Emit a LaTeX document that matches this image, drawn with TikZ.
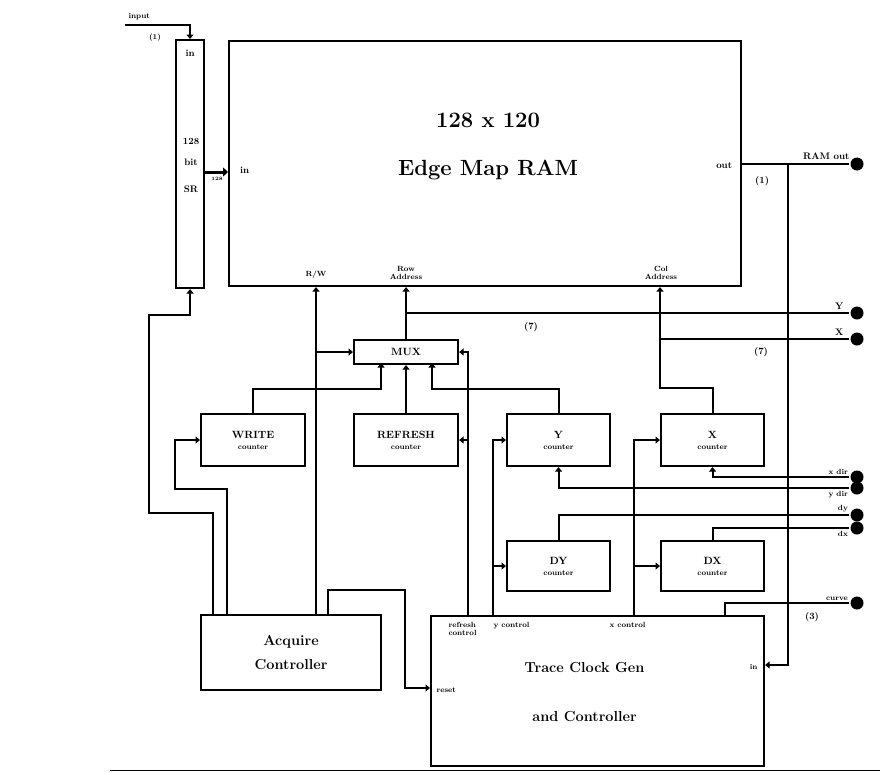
\documentclass[tikz,border=0pt]{standalone}
\usetikzlibrary{arrows.meta, positioning, calc}

\begin{document}
\begin{tikzpicture}[x=1pt, y=-1pt, line width=2.1pt,
    blk/.style={draw, rectangle, anchor=north west, inner sep=0pt, align=center,
      font=\bfseries\fontsize{10.5}{11}\selectfont},
    sig/.style={-{Triangle[width=7pt,length=4.5pt]}},
    lbl/.style={font=\bfseries\fontsize{9.5}{10}\selectfont, inner sep=1pt},
    tiny/.style={font=\bfseries\fontsize{7.5}{8}\selectfont, inner sep=0.5pt, align=center},
    term/.style={circle, fill, inner sep=0pt, minimum size=13pt}]
  \useasboundingbox (0,0) rectangle (880,782);
  \newcommand{\cnt}{\fontsize{7.5}{8.5}\selectfont counter}

  % boxes
  \node[blk, minimum width=28, minimum height=248] (sr) at (175,39) {};
  \node[blk, minimum width=512, minimum height=245] (ram) at (228,40) {};
  \node[blk, minimum width=104, minimum height=24] (mux) at (353,339) {MUX};
  \node[blk, minimum width=104, minimum height=52] (write) at (200,413) {WRITE\\\cnt};
  \node[blk, minimum width=104, minimum height=52] (refresh) at (353,413) {REFRESH\\\cnt};
  \node[blk, minimum width=103, minimum height=52] (ycnt) at (506,413) {Y\\\cnt};
  \node[blk, minimum width=103, minimum height=52] (xcnt) at (660,413) {X\\\cnt};
  \node[blk, minimum width=103, minimum height=50] (dy) at (506,540) {DY\\\cnt};
  \node[blk, minimum width=103, minimum height=50] (dx) at (660,540) {DX\\\cnt};
  \node[blk, minimum width=180, minimum height=75, font=\bfseries\fontsize{14.5}{24}\selectfont]
    (acq) at (200,614) {Acquire\\Controller};
  \node[blk, minimum width=333, minimum height=150] (trace) at (430,615) {};

  % texts in the boxes
  \node[lbl] (srin) at ($(sr.north)+(0,14)$) {in};
  \node[lbl] (srbits) at ($(sr.north)+(1,102)$) {128};
  \node[lbl] (srbit) at ($(sr.north)+(1,123)$) {bit};
  \node[lbl] (srname) at ($(sr.north)+(1,150)$) {SR};
  \node[font=\bfseries\fontsize{22}{26}\selectfont] (ramsize) at ($(ram.north)+(3,80)$) {128 x 120};
  \node[font=\bfseries\fontsize{22}{26}\selectfont] (ramname) at ($(ram.north)+(3,130)$) {Edge Map RAM};
  \node[lbl, anchor=west] (ramin) at ($(ram.north west)+(10,130)$) {in};
  \node[lbl, anchor=east] (ramout) at ($(ram.north east)+(-8,126)$) {out};
  \node[tiny] (lrw) at ($(ram.south west)+(88,-12)$) {R/W};
  \node[tiny, anchor=south] (lrow) at ($(ram.south -| mux.north)+(0,-6)$) {Row\\Address};
  \node[tiny, anchor=south] (lcol) at ($(ram.south west)+(433,-6)$) {Col\\Address};
  \node[font=\bfseries\fontsize{14.5}{16}\selectfont] (tracea) at ($(trace.north)+(-13,53)$) {Trace Clock Gen};
  \node[font=\bfseries\fontsize{14.5}{16}\selectfont] (traceb) at ($(trace.north)+(-13,102)$) {and Controller};
  \node[tiny, anchor=north west, align=left] (lrfc) at ($(trace.north west)+(17,6)$) {refresh\\control};
  \node[tiny, anchor=north west] (lyc) at ($(trace.north west)+(62,6)$) {y control};
  \node[tiny, anchor=north west] (lxc) at ($(trace.north west)+(178,6)$) {x control};
  \node[tiny, anchor=west] (lreset) at ($(trace.north west)+(5,75)$) {reset};
  \node[tiny, anchor=east] (ltin) at ($(trace.north east)+(-6,52)$) {in};

  % terminals on the right
  \node[term] (tro) at (857,164) {};
  \node[term] (ty) at (857,313) {};
  \node[term] (tx) at (857,339) {};
  \node[term] (txd) at (857,477) {};
  \node[term] (tyd) at (857,488) {};
  \node[term] (tdy) at (857,515) {};
  \node[term] (tdx) at (857,528) {};
  \node[term] (tcv) at (857,603) {};
  \node[lbl, anchor=south east] (lro) at ($(tro.west)+(2,-2)$) {RAM out};
  \node[lbl, anchor=south east] (lty) at ($(ty.west)+(-4,-1)$) {Y};
  \node[lbl, anchor=south east] (ltx) at ($(tx.west)+(-4,-1)$) {X};
  \node[tiny, anchor=south east] (ltxd) at ($(txd.west)+(0,-1)$) {x dir};
  \node[tiny, anchor=north east] (ltyd) at ($(tyd.west)+(0,2)$) {y dir};
  \node[tiny, anchor=south east] (ltdy) at ($(tdy.west)+(0,-1)$) {dy};
  \node[tiny, anchor=north east] (ltdx) at ($(tdx.west)+(0,2)$) {dx};
  \node[tiny, anchor=south east] (ltcv) at ($(tcv.west)+(0,-1)$) {curve};

  % input and bus into the RAM
  \coordinate (inp) at (125,25);
  \coordinate (busy) at (0,172);
  \coordinate (rw) at (316,0);
  \coordinate (col) at (660,0);
  \coordinate (ox) at (788,0);
  \node[tiny, anchor=south west] (linp) at ($(inp)+(2,-3)$) {input};
  \node[tiny] (linpw) at ($(inp)+(30,13)$) {(1)};
  \draw[sig] (inp) -| (sr.north);
  \draw[line width=3pt, -{Triangle[width=9pt,length=5pt]}] (sr.east |- busy) -- (ram.west |- busy);
  \node[font=\bfseries\fontsize{5}{5}\selectfont, inner sep=0pt] (lbus) at ($(sr.east |- busy)+(12,7)$) {128};

  % acquire controller
  \draw[sig] ($(acq.north west)+(13,0)$) |- ++(-64,-101) |- ($(sr.south)+(0,26)$) -- (sr.south);
  \draw[sig] ($(acq.north west)+(27,0)$) |- ++(-52,-125) |- (write.west);
  \draw[sig] (acq.north -| rw) -- (ram.south -| rw);
  \draw[sig] (mux.west -| rw) -- (mux.west);
  \draw[sig] ($(acq.north west)+(128,0)$) |- ++(77,-24) |- ($(trace.north west)+(0,73)$);

  % addresses
  \draw[sig] (mux.north) -- (ram.south -| mux.north);
  \draw ($(mux.north)+(0,-26)$) -- (ty);
  \draw[sig] (xcnt.north) |- ($(col)+(0,388)$) -- (ram.south -| col);
  \draw (col |- tx) -- (tx);
  \node[lbl] (lyw) at (531,327) {(7)};
  \node[lbl] (lxw) at (761,352) {(7)};

  % counters into the mux
  \draw[sig] (write.north) |- ++(128,-24) -- ++(0,-26);
  \draw[sig] (refresh.north) -- (mux.south);
  \draw[sig] (ycnt.north) |- ++(-126.5,-24) -- ++(0,-26);

  % control lines of the trace controller
  \coordinate (rfc) at ($(trace.north west)+(38,0)$);
  \coordinate (yc) at ($(trace.north west)+(63,0)$);
  \coordinate (xc) at ($(trace.north west)+(204,0)$);
  \draw[sig] (rfc) |- (mux.east);
  \draw[sig] (refresh.east -| rfc) -- (refresh.east);
  \draw[sig] (yc) |- (ycnt.west);
  \draw[sig] (dy.west -| yc) -- (dy.west);
  \draw[sig] (xc) |- (xcnt.west);
  \draw[sig] (dx.west -| xc) -- (dx.west);

  % counter lines to the right
  \draw[sig] (txd) -| (xcnt.south);
  \draw[sig] (tyd) -| (ycnt.south);
  \draw (tdy) -| (dy.north);
  \draw (tdx) -| (dx.north);

  % RAM out, trace in, curve
  \draw (ram.east |- tro) -- (tro);
  \node[lbl] (lrow1) at ($(ram.east |- tro)+(20,17)$) {(1)};
  \draw[sig] (ox |- tro) |- ($(trace.north east)+(0,50)$);
  \draw (tcv) -| ($(trace.north east)+(-40,0)$);
  \node[lbl] (lcv3) at ($(ox |- tcv)+(24,14)$) {(3)};

  % rule under the figure
  \draw[line width=1pt] (110,770) -- (880,770);
\end{tikzpicture}
\end{document}
